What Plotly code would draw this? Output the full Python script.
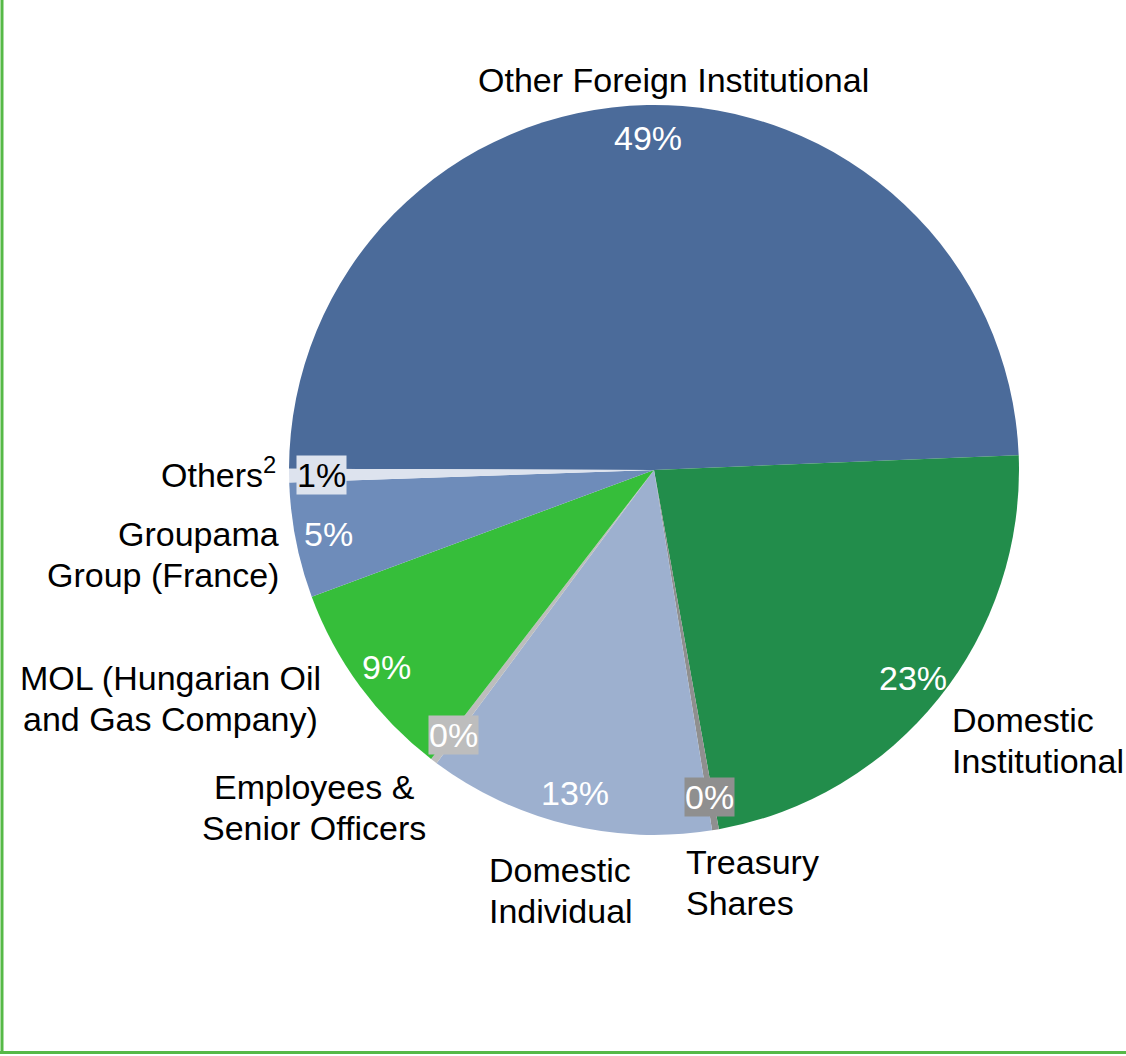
import math
import plotly.graph_objects as go

# ---- data ----
categories = ["Other Foreign Institutional", "Domestic Institutional", "Treasury Shares",
              "Domestic Individual", "Employees & Senior Officers",
              "MOL (Hungarian Oil and Gas Company)", "Groupama Group (France)", "Others"]
values = [49.3, 22.8, 0.3, 12.7, 0.3, 8.9, 5.1, 0.6]
colors = ["#4b6b9a", "#228d4b", "#8f8f8f", "#9db0cf", "#bdbdbd", "#36be3a", "#6e8cba", "#dde3ee"]

# ---- layout constants ----
W, H = 1126, 1056
CX, CY, R = 654, 470, 365          # pixel centre / radius of the pie
ROT = -89.8                         # start angle (clockwise from 12 o'clock)
FONT = "Liberation Sans, Arial, sans-serif"
FS = 34
LINE_H = 41

fig = go.Figure(go.Pie(
    labels=categories, values=values, sort=False, direction="clockwise",
    rotation=ROT, marker=dict(colors=colors, line=dict(width=0)),
    textinfo="none", hoverinfo="label+percent", showlegend=False,
    domain=dict(x=[(CX - R) / W, (CX + R) / W],
                y=[(H - CY - R) / H, (H - CY + R) / H]),
))

# percent labels placed at ~0.91 R along each slice's mid angle
total = sum(values)
pct_style = [
    dict(color="white", bg=None), dict(color="white", bg=None),
    dict(color="white", bg="#8f8f8f"), dict(color="white", bg=None),
    dict(color="white", bg="#bdbdbd"), dict(color="white", bg=None),
    dict(color="white", bg=None), dict(color="black", bg="#dde3ee"),
]
ann = []
start = ROT % 360
cum = 0.0
for v, st in zip(values, pct_style):
    mid = start + (cum + v / 2) / total * 360
    cum += v
    a = math.radians(mid)
    px = CX + 0.91 * R * math.sin(a)
    py = CY - 0.91 * R * math.cos(a)
    a_kw = dict(x=px / W, y=1 - py / H, xref="paper", yref="paper",
                text=f"{round(v / total * 100)}%", showarrow=False,
                font=dict(family=FONT, size=FS, color=st["color"]),
                xanchor="center", yanchor="middle")
    if st["bg"]:
        a_kw.update(bgcolor=st["bg"], borderpad=0)
    ann.append(a_kw)

# category labels (lines, anchor x, first-line centre y, alignment)
label_pos = [
    (["Other Foreign Institutional"], 673, 80, "center"),
    (["Domestic", "Institutional"], 950, 720, "left"),
    (["Treasury", "Shares"], 684, 862, "left"),
    (["Domestic", "Individual"], 487, 870, "left"),
    (["Employees &", "Senior Officers"], 314, 787, "center"),
    (["MOL (Hungarian Oil", "and Gas Company)"], 170, 678, "center"),
    (["Groupama", "Group (France)"], 281, 534, "right"),
    (["Others<sup>2</sup>"], 278, 472, "right"),
]
for lines, x, y, al in label_pos:
    for i, txt in enumerate(lines):
        ann.append(dict(x=x / W, y=1 - (y + i * LINE_H) / H, xref="paper", yref="paper",
                        text=txt, showarrow=False,
                        font=dict(family=FONT, size=FS, color="black"),
                        xanchor=al, yanchor="middle", align=al))

green = "#56b947"
shapes = [
    dict(type="line", xref="paper", yref="paper", x0=2 / W, x1=2 / W, y0=1, y1=3.5 / H,
         line=dict(color=green, width=3)),
    dict(type="line", xref="paper", yref="paper", x0=0, x1=1, y0=3.5 / H, y1=3.5 / H,
         line=dict(color=green, width=3)),
]

fig.update_layout(width=W, height=H, margin=dict(l=0, r=0, t=0, b=0),
                  paper_bgcolor="white", plot_bgcolor="white",
                  annotations=ann, shapes=shapes, font=dict(family=FONT))

fig.write_html("out.html", config={"displayModeBar": False},
               post_script="document.body.style.margin='0';document.body.style.overflow='hidden';")
